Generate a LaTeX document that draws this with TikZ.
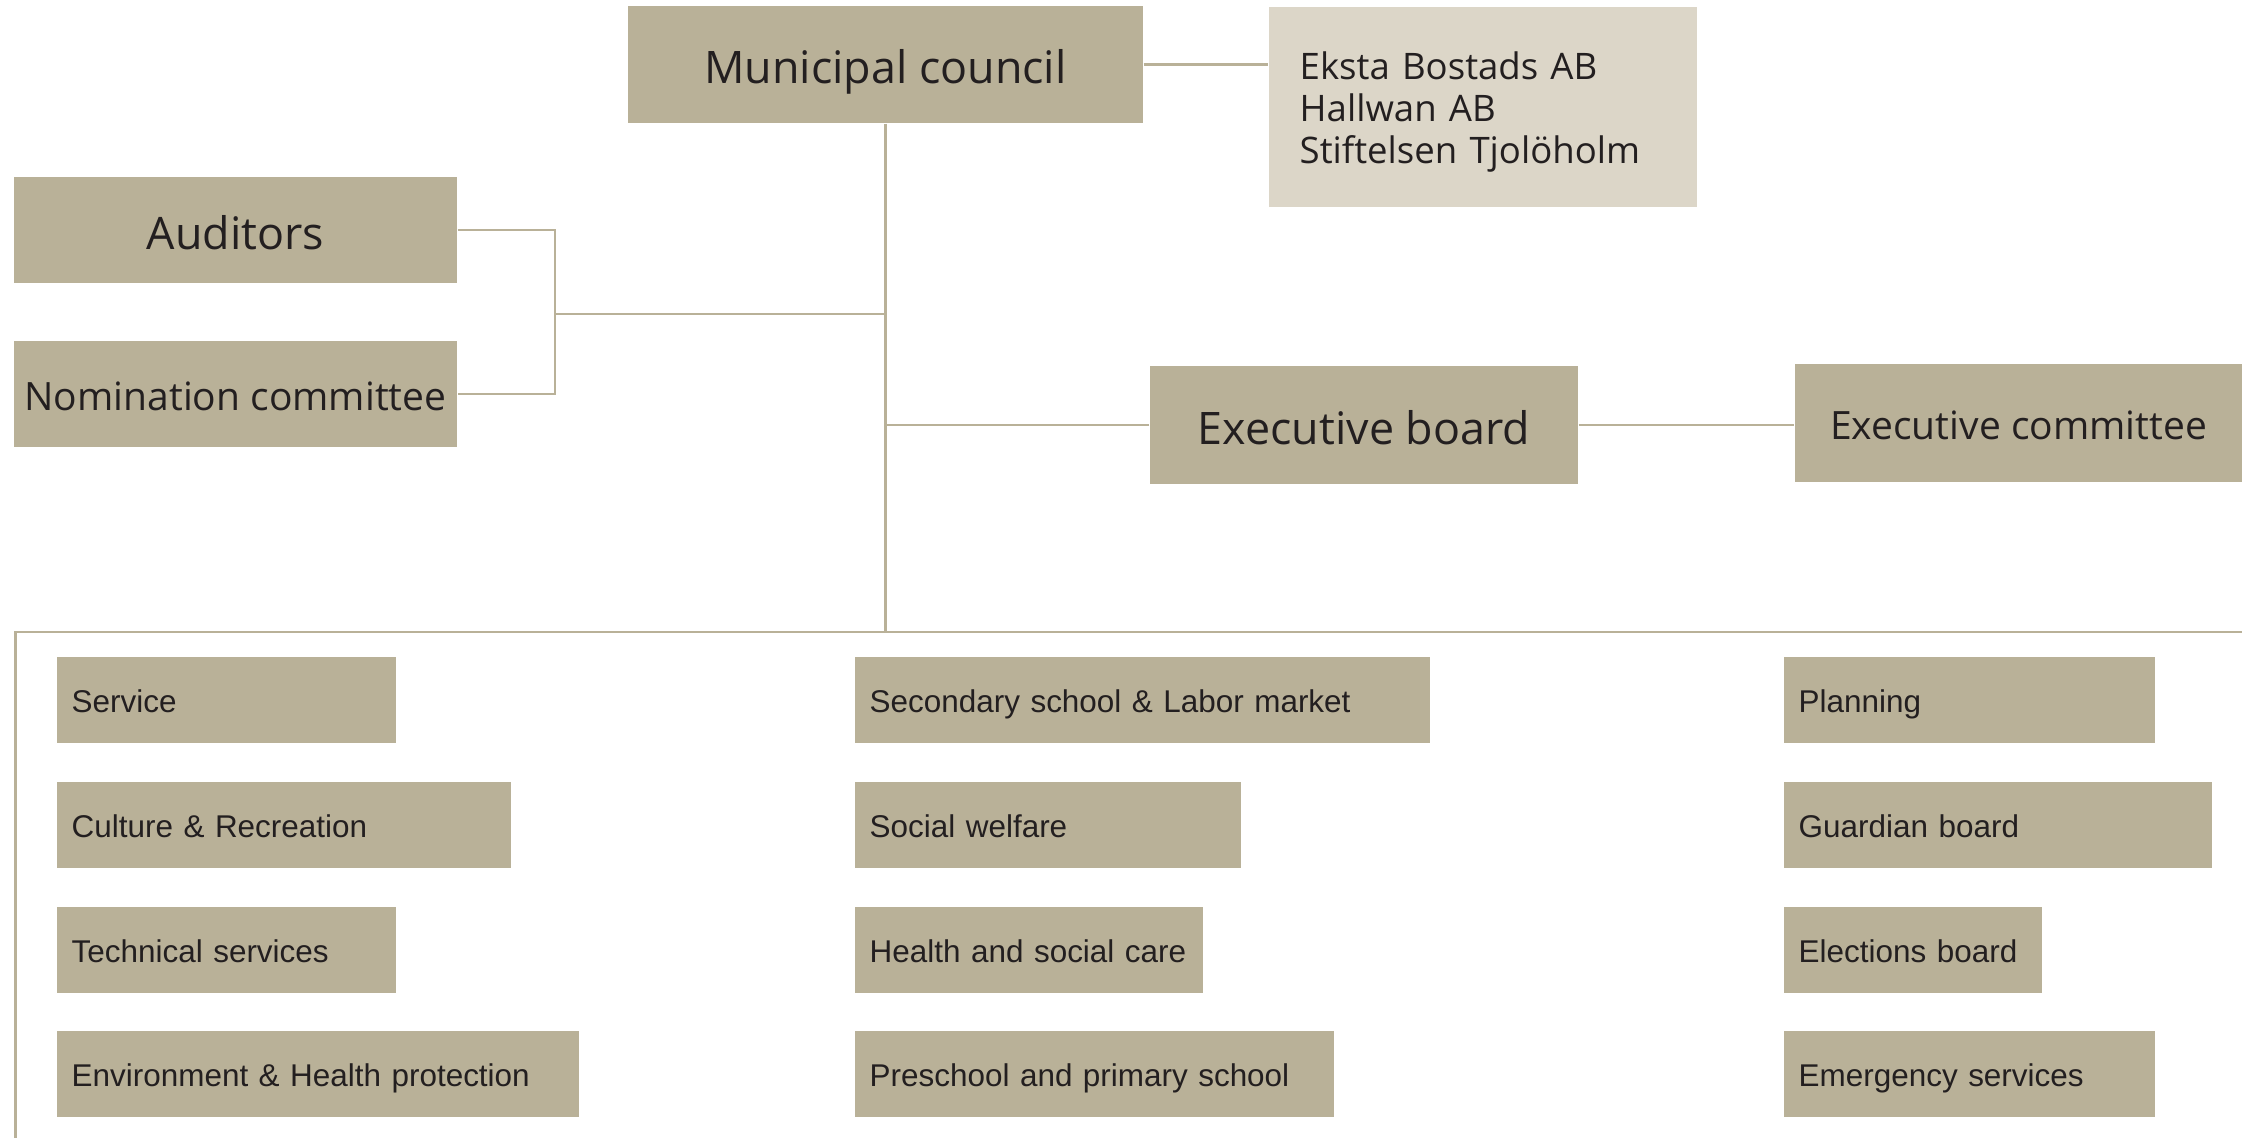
\documentclass[tikz,border=0pt]{standalone}
\usepackage{fontspec}
\setmainfont{Liberation Sans}
\newfontfamily\headfont{Open Sans}
\definecolor{sand}{HTML}{B9B198}
\definecolor{pale}{HTML}{DCD6C8}
\definecolor{ink}{HTML}{231F20}

\begin{document}
\begin{tikzpicture}[
  box/.style={fill=sand, text=ink, inner sep=0pt, text height=11.1pt, text depth=0pt,
    font=\headfont\fontsize{12.75}{15}\selectfont},
  smallbox/.style={box, text height=9.4pt, font=\headfont\fontsize{11.1}{13}\selectfont},
  unit/.style={fill=sand, text=ink, anchor=west, minimum height=0.86cm, inner xsep=0.15cm,
    inner ysep=0pt, text width=#1, align=left, text height=7.2pt, text depth=0pt,
    font=\fontsize{8.95}{11}\selectfont},
  link/.style={sand, line width=0.75pt}]
  \useasboundingbox (0,0) rectangle (22.42,-11.38);

  % top part
  \node[box, minimum width=5.15cm, minimum height=1.17cm] (council) at (8.855,-0.645) {Municipal council};
  \node[fill=pale, text=ink, anchor=north west, minimum height=2.005cm, inner xsep=0.31cm, inner ysep=0pt,
    text width=3.66cm, align=left, font=\headfont\fontsize{10.4}{11.95}\selectfont] (firms) at (12.68,-0.06)
    {\rule{0pt}{11pt}Eksta Bostads AB\\Hallwan AB\\Stiftelsen Tjolöholm};
  \node[box, minimum width=4.43cm, minimum height=1.06cm] (auditors) at (2.355,-2.30) {Auditors};
  \node[smallbox, minimum width=4.43cm, minimum height=1.055cm] (nomination) at (2.355,-3.94) {Nomination committee};
  \node[box, minimum width=4.28cm, minimum height=1.18cm] (board) at (13.64,-4.25) {Executive board};
  \node[smallbox, minimum width=4.47cm, minimum height=1.18cm] (committee) at (20.185,-4.23) {Executive committee};

  \coordinate (bracket) at (5.55,-3.14);
  \coordinate (frame) at (0.156,-6.32);
  \coordinate (frameend) at (22.42,-6.32);
  \coordinate (framefoot) at (0.156,-11.38);
  \coordinate (hub) at (council.south |- frame);

  \draw[link] (council.east) -- (council.east -| firms.west);
  \draw[link] (council.south) -- (hub);
  \draw[link] (auditors.east) -| (bracket) |- (nomination.east);
  \draw[link] (bracket) -- (bracket -| council.south);
  \draw[link] (board.west) -- (board.west -| council.south);
  \draw[link] (board.east) -- (board.east -| committee.west);
  \draw[link] (frameend) -- (frame) -- (framefoot);

  % committees
  \node[unit=3.09cm] (service) at (0.56,-7.00) {Service};
  \node[unit=4.24cm] (culture) at (0.56,-8.25) {Culture \& Recreation};
  \node[unit=3.09cm] (technical) at (0.56,-9.50) {Technical services};
  \node[unit=4.92cm] (environment) at (0.56,-10.74) {Environment \& Health protection};

  \node[unit=5.45cm] (secondary) at (8.54,-7.00) {Secondary school \& Labor market};
  \node[unit=3.56cm] (welfare) at (8.54,-8.25) {Social welfare};
  \node[unit=3.18cm] (health) at (8.54,-9.50) {Health and social care};
  \node[unit=4.49cm] (preschool) at (8.54,-10.74) {Preschool and primary school};

  \node[unit=3.41cm] (planning) at (17.83,-7.00) {Planning};
  \node[unit=3.98cm] (guardian) at (17.83,-8.25) {Guardian board};
  \node[unit=2.28cm] (elections) at (17.83,-9.50) {Elections board};
  \node[unit=3.41cm] (emergency) at (17.83,-10.74) {Emergency services};
\end{tikzpicture}
\end{document}
